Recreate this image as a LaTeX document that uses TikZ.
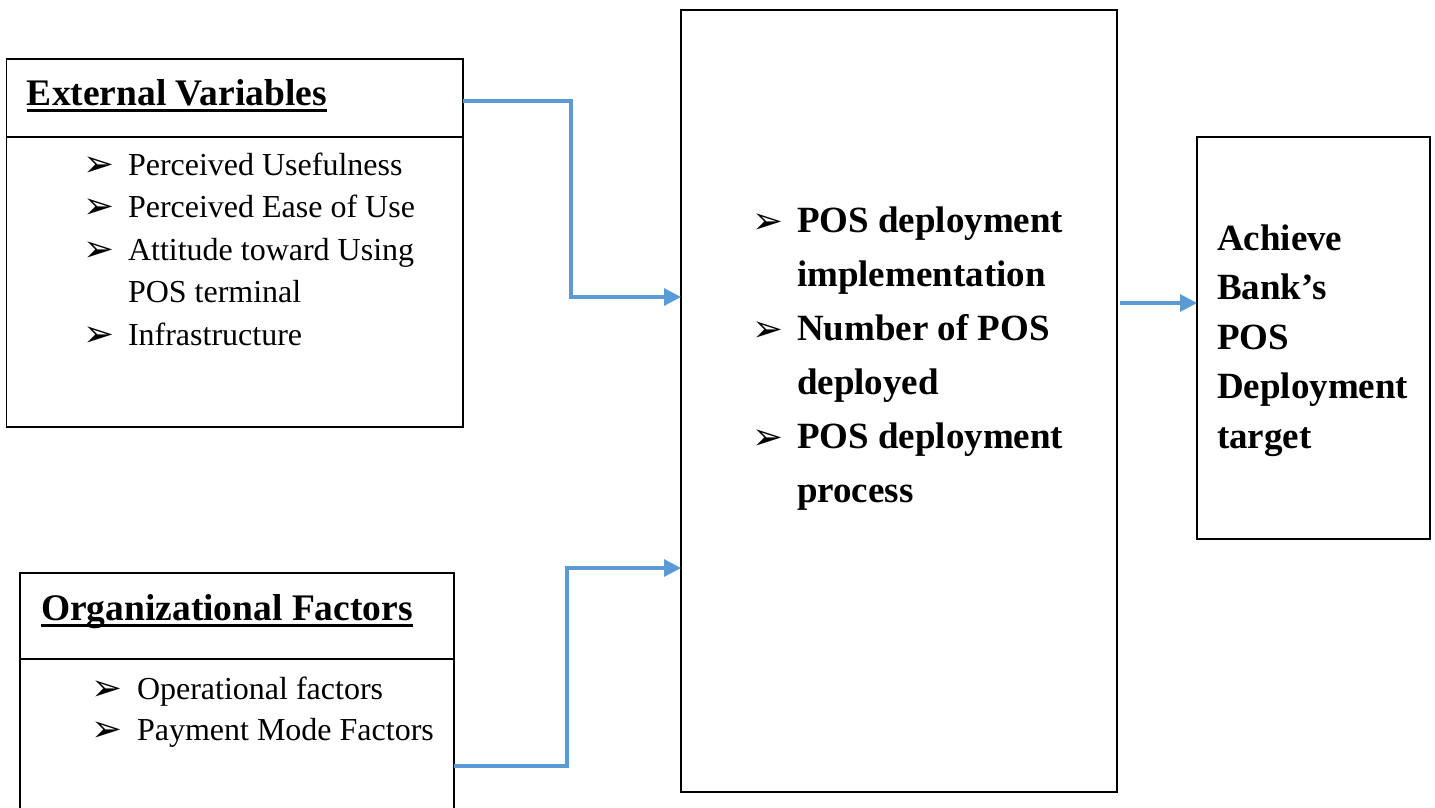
\documentclass[tikz,border=0pt]{standalone}
\usepackage{fontspec}
\setmainfont{Liberation Serif}
\newfontfamily\dvfont{DejaVu Sans}
\usetikzlibrary{arrows.meta}
\definecolor{conblue}{RGB}{91,155,213}
\newcommand{\bl}{\makebox[45pt][l]{\dvfont\fontsize{37}{37}\selectfont\raisebox{-1pt}{➢}}}
\newcommand{\blo}{\makebox[46pt][l]{\dvfont\fontsize{37}{37}\selectfont\raisebox{-1pt}{➢}}}
\begin{document}
\begin{tikzpicture}[x=1pt,y=-1pt,
  box/.style={draw=black,line width=1.2pt,rectangle,inner sep=0pt,outer sep=0pt,anchor=north west},
  txt/.style={inner sep=0pt,outer sep=0pt,anchor=base west},
  conn/.style={draw=conblue,line width=3.2pt,-{Triangle[length=17pt,width=17pt]}},
  ul/.style={line width=2.6pt},
  divider/.style={line width=1.2pt}]
\useasboundingbox (0,0) rectangle (1435,807);

% boxes
\node[box,minimum width=456.5pt,minimum height=368pt] (ext) at (6.5,59) {};
\node[box,minimum width=434pt,minimum height=245pt] (org) at (20,573) {};
\node[box,minimum width=436pt,minimum height=782pt] (mid) at (681,10) {};
\node[box,minimum width=233pt,minimum height=402pt] (tgt) at (1197,137) {};

% header dividers
\draw[divider] ([yshift=-78pt]ext.north west) -- ([yshift=-78pt]ext.north east);
\draw[divider] ([yshift=-86pt]org.north west) -- ([yshift=-86pt]org.north east);

% headings
\node[txt,font=\bfseries\fontsize{37.5}{44}\selectfont] (evh) at (27,105) {External Variables};
\draw[ul] ([yshift=-5.5pt]evh.base west) -- ([yshift=-5.5pt]evh.base east);
\node[txt,font=\bfseries\fontsize{37.5}{44}\selectfont] (ofh) at (41,620) {Organizational Factors};
\draw[ul] ([yshift=-5.5pt]ofh.base west) -- ([yshift=-5.5pt]ofh.base east);

% lists
\node[txt,font=\fontsize{32}{42.5}\selectfont] (evlist) at (83,175) {%
\begin{tabular}[t]{@{}l@{}l@{}}
\bl & Perceived Usefulness\\
\bl & Perceived Ease of Use\\
\bl & Attitude toward Using\\
\makebox[45pt]{} & POS terminal\\
\bl & Infrastructure
\end{tabular}};

\node[txt,font=\fontsize{32}{41}\selectfont] (oflist) at (91,699) {%
\begin{tabular}[t]{@{}l@{}l@{}}
\blo & Operational factors\\
\blo & Payment Mode Factors
\end{tabular}};

\node[txt,font=\bfseries\fontsize{37}{54}\selectfont] (midlist) at (752,232) {%
\begin{tabular}[t]{@{}l@{}l@{}}
\bl & POS deployment\\
 & implementation\\
\bl & Number of POS\\
 & deployed\\
\bl & POS deployment\\
 & process
\end{tabular}};

\node[txt,font=\bfseries\fontsize{37}{49.5}\selectfont] (tgttext) at (1217,250) {%
\begin{tabular}[t]{@{}l@{}}
Achieve\\
Bank’s\\
POS\\
Deployment\\
target
\end{tabular}};

% connectors
\coordinate (a1s) at ([yshift=-42pt]ext.north east);
\coordinate (a1e) at ([yshift=-287pt]mid.north west);
\draw[conn] (a1s) -- ++(108,0) |- (a1e);

\coordinate (a2s) at ([yshift=-193pt]org.north east);
\coordinate (a2e) at ([yshift=-558pt]mid.north west);
\draw[conn] (a2s) -- ++(113,0) |- (a2e);

\coordinate (a3s) at ([yshift=-293pt]mid.north east);
\draw[conn] ([xshift=3pt]a3s) -- (a3s -| tgt.west);
\end{tikzpicture}
\end{document}
